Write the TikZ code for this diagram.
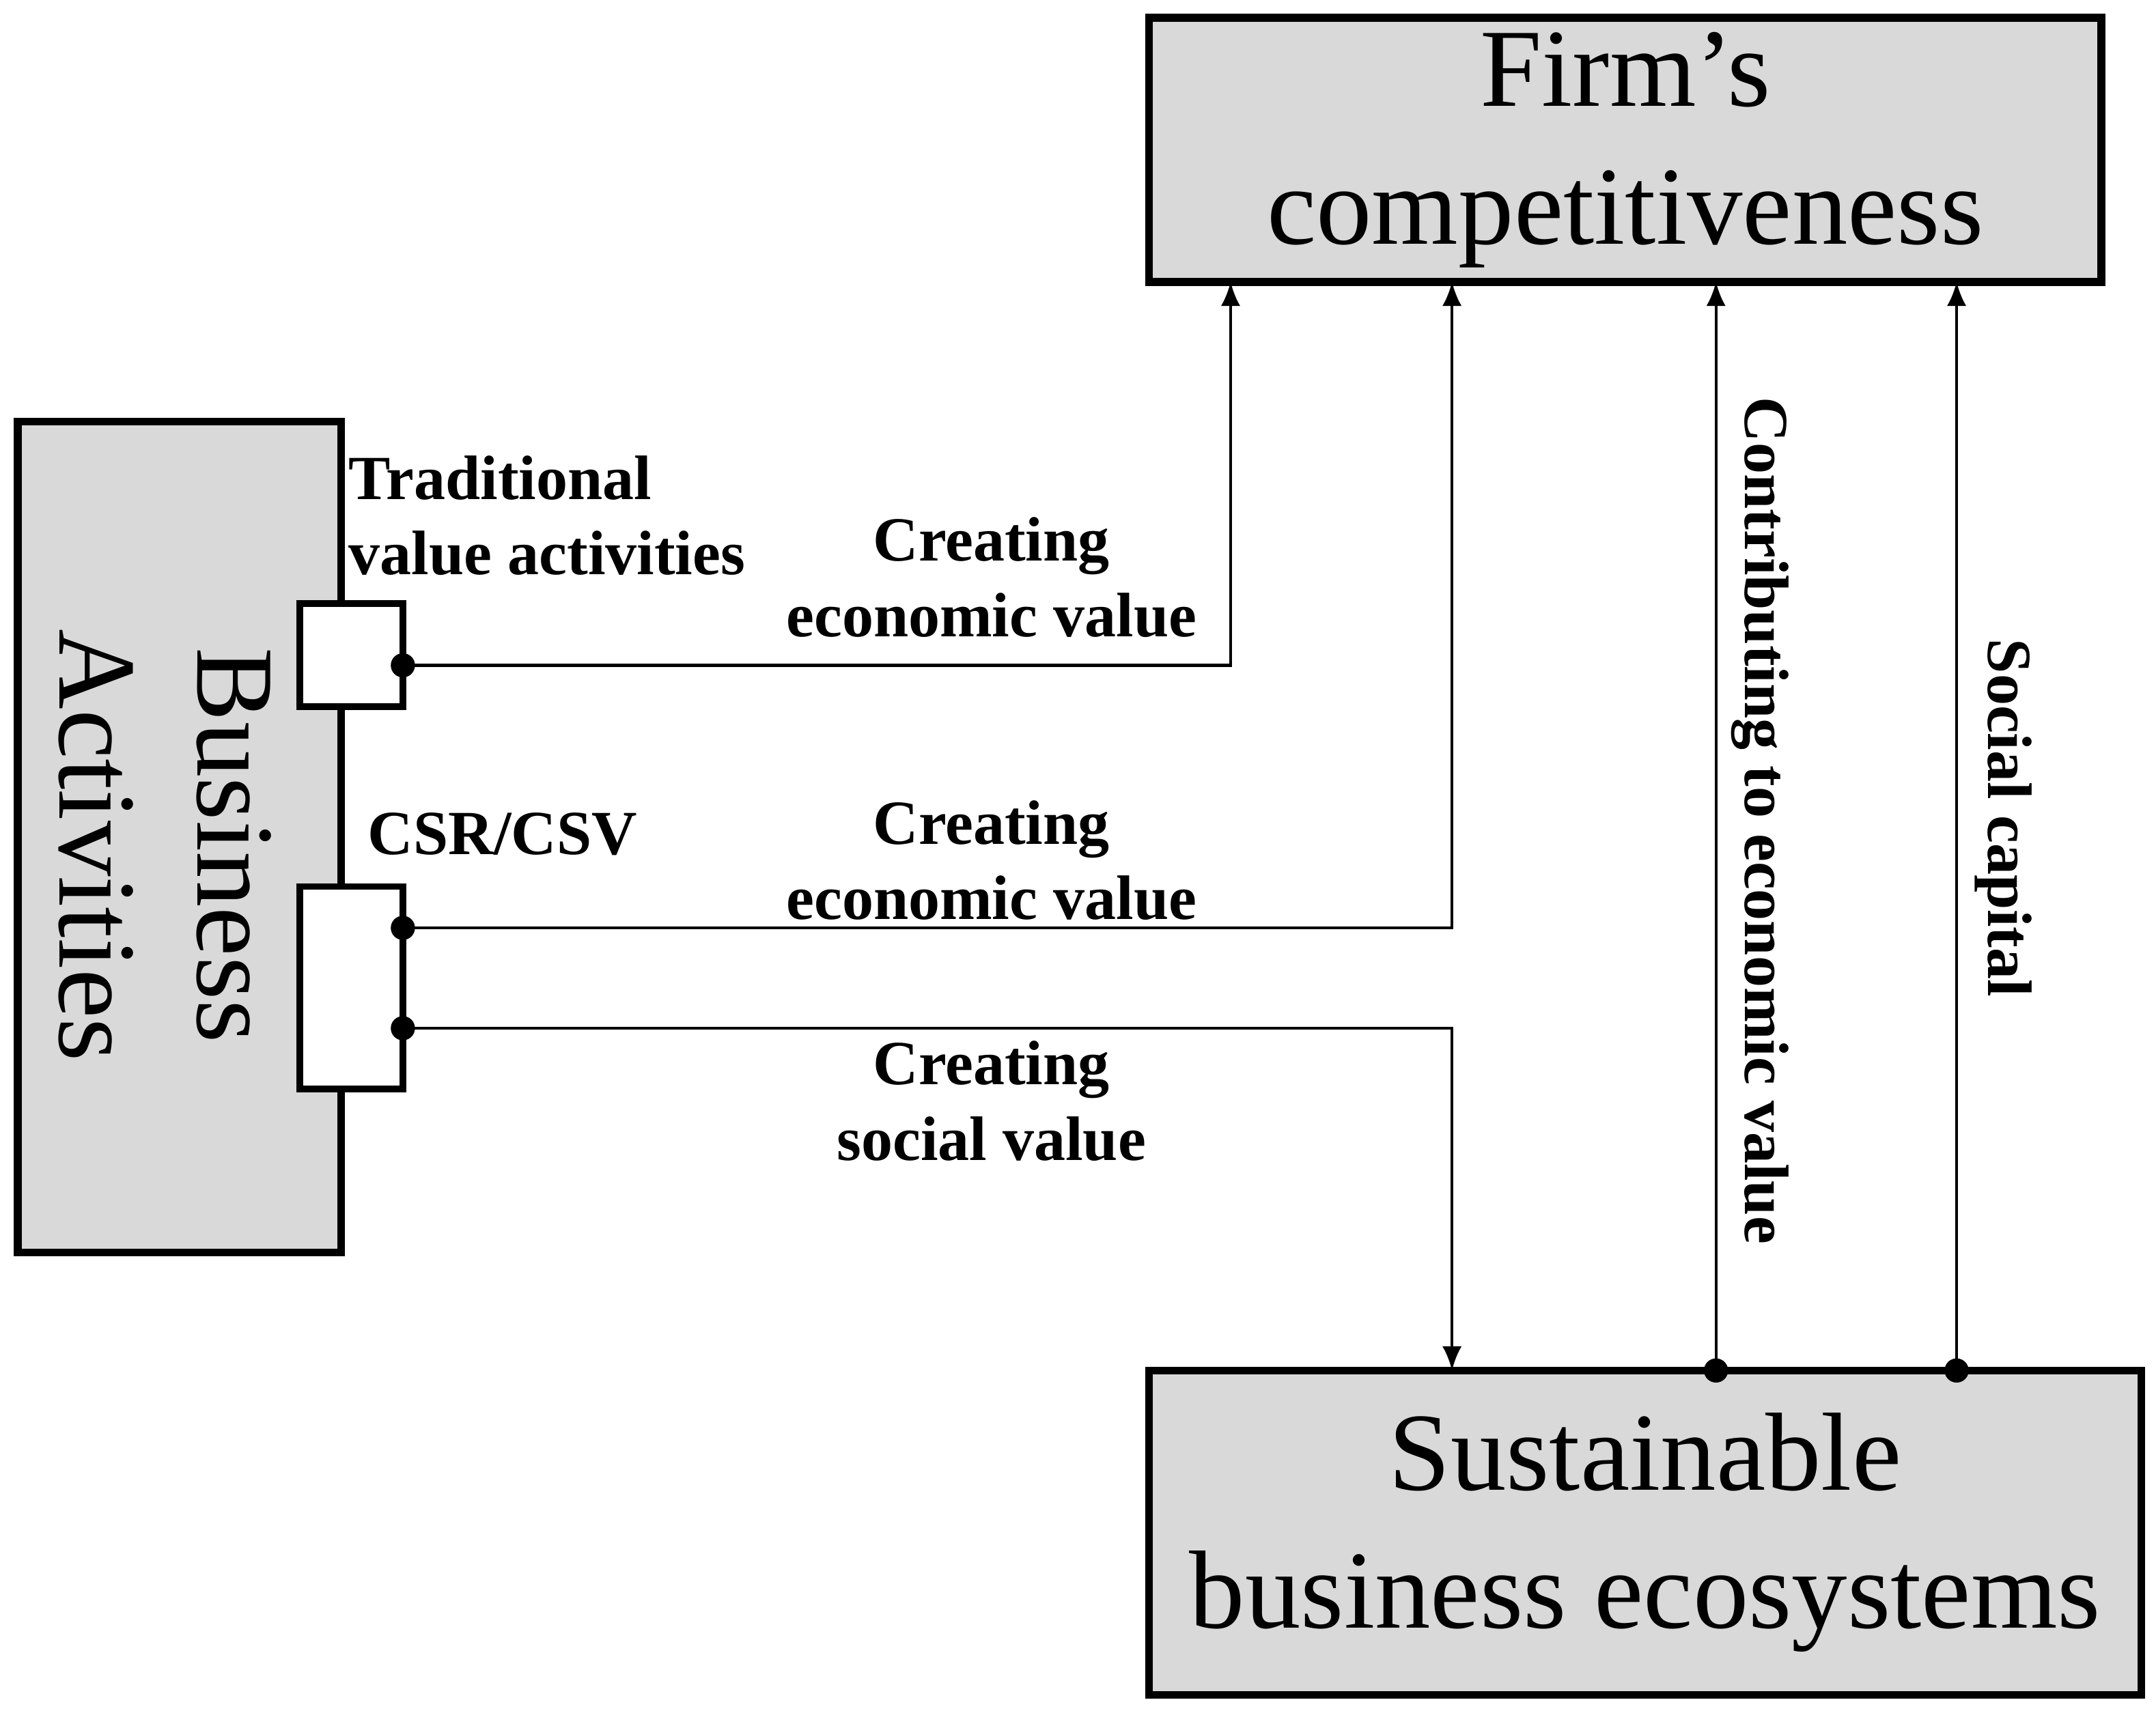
\documentclass[tikz,border=0pt]{standalone}
\usepackage{fontspec}
\setmainfont{Liberation Serif}
\usetikzlibrary{arrows.meta, positioning}

\begin{document}
\begin{tikzpicture}[
  x=0.01cm, y=-0.01cm,
  bigbox/.style={rectangle, draw, line width=1.6pt, fill=gray!30, inner sep=0pt, align=center, font=\fontsize{23}{28.5}\selectfont},
  port/.style={rectangle, draw, line width=1.4pt, fill=white, inner sep=0pt, minimum width=0.75cm},
  lbl/.style={font=\fontsize{13}{15.6}\selectfont\bfseries, align=center, inner sep=0pt},
  arr/.style={-{Latex[length=5pt,width=4pt]}, line width=0.6pt},
  dot/.style={circle, fill, inner sep=0pt, minimum size=5pt}
]
  \useasboundingbox (0,0) rectangle (1568,1246);
  % boxes
  \node[bigbox, minimum width=6.92cm, minimum height=1.92cm] (firm) at (1182,109) {Firm’s\\competitiveness};
  \node[bigbox, minimum width=7.21cm, minimum height=2.36cm] (sbe) at (1196.5,1115) {Sustainable\\business ecosystems};
  \node[bigbox, minimum width=2.35cm, minimum height=6.04cm] (ba) at (130.5,609) {};
  \node[font=\fontsize{23}{28.5}\selectfont, align=center, rotate=-90] (batxt) at (120,615) {Business\\Activities};
  \node[port, minimum height=0.75cm] (tva) at (255.5,476.5) {};
  \node[port, minimum height=1.47cm] (csr) at (255.5,718.5) {};

  % dots
  \node[dot] (d1) at (293,484) {};
  \node[dot] (d2) at (293,675) {};
  \node[dot] (d3) at (293,748) {};
  \node[dot] (d4) at (1248,997) {};
  \node[dot] (d5) at (1423,997) {};

  % labels
  \node[lbl, align=left, anchor=west] (l1) at (253,375) {Traditional\\value activities};
  \node[lbl, anchor=west] (l2) at (267,607) {CSR/CSV};
  \node[lbl] (l3) at (721,420) {Creating\\economic value};
  \node[lbl] (l4) at (721,626) {Creating\\economic value};
  \node[lbl] (l5) at (721,801) {Creating\\social value};
  \node[lbl, rotate=-90] (l6) at (1280,597) {Contributing to economic value};
  \node[lbl, rotate=-90] (l7) at (1457,595) {Social capital};

  % connectors
  \draw[arr] (d1.center) -| (895,205);
  \draw[arr] (d2.center) -| (1056,205);
  \draw[arr] (d3.center) -| (1056,997);
  \draw[arr] (d4.center) -- (1248,205);
  \draw[arr] (d5.center) -- (1423,205);
\end{tikzpicture}
\end{document}
